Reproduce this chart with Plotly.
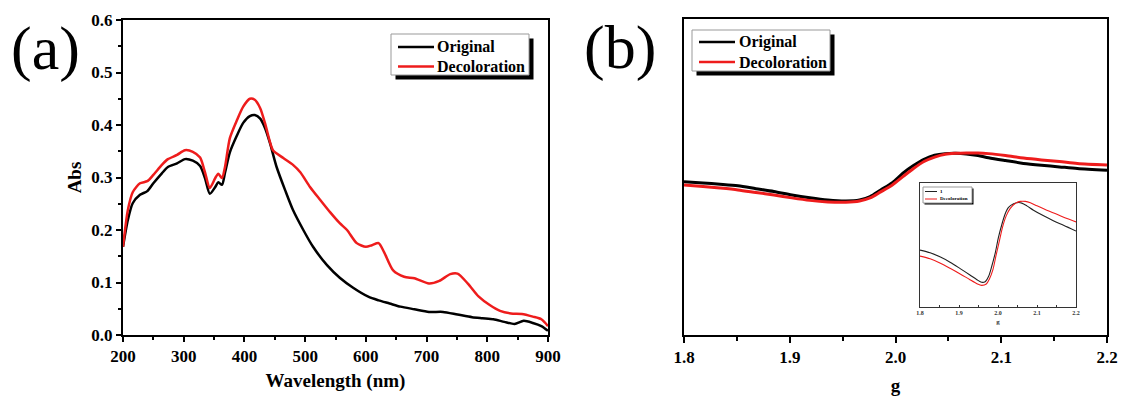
import plotly.graph_objects as go

W, H = 1121, 396
FONT = "Liberation Serif"
RED = "#ee1c1c"

# ---------------- data: panel (a) UV-Vis ----------------
wl_original = [200, 208, 216, 228, 240, 250, 264, 274, 289, 302, 315, 327, 335, 343, 352, 357, 363,
               368, 376, 388, 398, 409, 417, 426, 434, 442, 453, 467, 480, 497, 513, 536, 557, 579,
               604, 621, 639, 657, 680, 704, 727, 751, 775, 792, 810, 828, 845, 860, 875, 889, 900]
abs_original = [0.168, 0.219, 0.251, 0.267, 0.274, 0.289, 0.308, 0.320, 0.327, 0.335, 0.332, 0.322,
                0.299, 0.269, 0.282, 0.291, 0.286, 0.309, 0.348, 0.381, 0.404, 0.417, 0.419, 0.412,
                0.394, 0.366, 0.320, 0.276, 0.238, 0.200, 0.168, 0.133, 0.109, 0.090, 0.073, 0.066,
                0.060, 0.054, 0.049, 0.044, 0.044, 0.039, 0.034, 0.032, 0.030, 0.025, 0.021, 0.027,
                0.023, 0.017, 0.008]
wl_decol = [200, 208, 216, 228, 240, 250, 264, 274, 289, 302, 315, 327, 335, 343, 352, 357, 363,
            368, 376, 388, 398, 409, 417, 426, 434, 442, 447, 464, 480, 492, 508, 525, 541, 557,
            569, 585, 600, 610, 621, 630, 645, 663, 680, 704, 721, 739, 751, 768, 786, 804, 821,
            839, 857, 875, 889, 900]
abs_decol = [0.168, 0.238, 0.272, 0.289, 0.293, 0.305, 0.324, 0.335, 0.343, 0.352, 0.349, 0.338,
             0.310, 0.280, 0.299, 0.307, 0.299, 0.320, 0.375, 0.410, 0.435, 0.450, 0.448, 0.432,
             0.403, 0.368, 0.352, 0.337, 0.324, 0.310, 0.282, 0.257, 0.234, 0.213, 0.200, 0.175,
             0.168, 0.171, 0.175, 0.158, 0.123, 0.111, 0.108, 0.098, 0.103, 0.116, 0.117, 0.098,
             0.073, 0.057, 0.046, 0.041, 0.040, 0.035, 0.030, 0.017]

# ---------------- data: panel (b) EPR (arbitrary units) ----------------
g_original = [1.800, 1.818, 1.834, 1.851, 1.868, 1.885, 1.902, 1.919, 1.936, 1.953, 1.966, 1.976,
              1.986, 1.997, 2.007, 2.017, 2.027, 2.037, 2.047, 2.057, 2.067, 2.078, 2.088, 2.104,
              2.121, 2.138, 2.155, 2.172, 2.200]
epr_original = [0.485, 0.481, 0.477, 0.472, 0.463, 0.454, 0.443, 0.434, 0.427, 0.424, 0.427, 0.438,
                0.459, 0.482, 0.512, 0.536, 0.556, 0.569, 0.574, 0.575, 0.573, 0.568, 0.561, 0.552,
                0.543, 0.537, 0.532, 0.527, 0.521]
g_decol = g_original
epr_decol = [0.475, 0.470, 0.465, 0.459, 0.451, 0.443, 0.434, 0.426, 0.421, 0.420, 0.424, 0.434,
             0.453, 0.475, 0.501, 0.527, 0.549, 0.563, 0.572, 0.575, 0.576, 0.576, 0.574, 0.568,
             0.560, 0.554, 0.549, 0.543, 0.538]

# ---------------- data: inset ----------------
g_inset_original = [1.800, 1.826, 1.851, 1.877, 1.903, 1.928, 1.946, 1.958, 1.967, 1.976, 1.984,
                    1.993, 2.001, 2.010, 2.018, 2.027, 2.040, 2.053, 2.061, 2.074, 2.091, 2.117,
                    2.143, 2.168, 2.200]
inset_original = [0.457, 0.435, 0.402, 0.359, 0.307, 0.255, 0.217, 0.196, 0.201, 0.245, 0.326,
                  0.435, 0.557, 0.666, 0.747, 0.802, 0.832, 0.842, 0.837, 0.815, 0.780, 0.734,
                  0.693, 0.658, 0.611]
g_inset_decol = [1.800, 1.826, 1.851, 1.877, 1.903, 1.928, 1.946, 1.958, 1.970, 1.978, 1.987,
                 1.995, 2.004, 2.012, 2.021, 2.031, 2.044, 2.057, 2.070, 2.083, 2.100, 2.125,
                 2.151, 2.177, 2.200]
inset_decol = [0.408, 0.386, 0.353, 0.310, 0.264, 0.217, 0.185, 0.171, 0.182, 0.223, 0.299,
               0.413, 0.538, 0.647, 0.734, 0.793, 0.834, 0.851, 0.851, 0.840, 0.815, 0.780,
               0.747, 0.712, 0.685]

series_names = ["Original", "Decoloration"]
inset_names = ["1", "Decoloration"]
wl_ticks = [200, 300, 400, 500, 600, 700, 800, 900]
abs_ticks = [0.0, 0.1, 0.2, 0.3, 0.4, 0.5, 0.6]
g_ticks = [1.8, 1.9, 2.0, 2.1, 2.2]


def px(x):
    return x / W


def py(y):
    return 1 - y / H


fig = go.Figure()
line_kw = dict(mode="lines", line_shape="spline", showlegend=False)
fig.add_trace(go.Scatter(x=wl_original, y=abs_original, name=series_names[0], xaxis="x", yaxis="y",
                         line=dict(color="black", width=2.5, smoothing=0.7), **line_kw))
fig.add_trace(go.Scatter(x=wl_decol, y=abs_decol, name=series_names[1], xaxis="x", yaxis="y",
                         line=dict(color=RED, width=2.5, smoothing=0.7), **line_kw))
fig.add_trace(go.Scatter(x=g_original, y=epr_original, name=series_names[0], xaxis="x2", yaxis="y2",
                         line=dict(color="black", width=3, smoothing=0.8), **line_kw))
fig.add_trace(go.Scatter(x=g_decol, y=epr_decol, name=series_names[1], xaxis="x2", yaxis="y2",
                         line=dict(color=RED, width=3, smoothing=0.8), **line_kw))
fig.add_trace(go.Scatter(x=g_inset_original, y=inset_original, name=inset_names[0], xaxis="x3", yaxis="y3",
                         line=dict(color="#222222", width=1.1, smoothing=0.8), **line_kw))
fig.add_trace(go.Scatter(x=g_inset_decol, y=inset_decol, name=inset_names[1], xaxis="x3", yaxis="y3",
                         line=dict(color=RED, width=1.1, smoothing=0.8), **line_kw))

ax_common = dict(showline=True, linecolor="black", mirror=True, showgrid=False, zeroline=False,
                 automargin=False, ticks="outside", tickcolor="black",
                 tickfont=dict(size=17, family=FONT, color="black", weight="bold"))

fig.update_layout(
    width=W, height=H, margin=dict(l=0, r=0, t=0, b=0, pad=0, autoexpand=False),
    paper_bgcolor="white", plot_bgcolor="white", showlegend=False,
    font=dict(family=FONT, color="black", weight="bold"),
    xaxis=dict(domain=[px(123), px(548)], range=[200, 900], anchor="y", tickvals=wl_ticks,
               ticklen=5, tickwidth=2, linewidth=2,
               minor=dict(dtick=50, tick0=200, ticklen=3, tickwidth=1.5, ticks="outside", tickcolor="black"),
               title=dict(text="Wavelength (nm)", font=dict(size=19, family=FONT, weight="bold"), standoff=8),
               **ax_common),
    yaxis=dict(domain=[py(335), py(20)], range=[0, 0.6], anchor="x", tickvals=abs_ticks, tickformat=".1f",
               ticklen=5, tickwidth=2, linewidth=2,
               minor=dict(dtick=0.05, tick0=0, ticklen=3, tickwidth=1.5, ticks="outside", tickcolor="black"),
               title=dict(text="Abs", font=dict(size=19, family=FONT, weight="bold"), standoff=5),
               **ax_common),
    xaxis2=dict(domain=[px(684), px(1107)], range=[1.8, 2.2], anchor="y2", tickvals=g_ticks, tickformat=".1f",
                ticklen=6, tickwidth=2, linewidth=2,
                minor=dict(dtick=0.05, tick0=1.8, ticklen=4, tickwidth=1.5, ticks="outside", tickcolor="black"),
                title=dict(text="g", font=dict(size=19, family=FONT, weight="bold"), standoff=18),
                **ax_common),
    yaxis2=dict(domain=[py(335), py(19)], range=[0, 1], anchor="x2", showticklabels=False,
                showline=True, linecolor="black", linewidth=2, mirror=True, showgrid=False,
                zeroline=False, ticks="", automargin=False),
    xaxis3=dict(domain=[px(920), px(1076)], range=[1.8, 2.2], anchor="y3", tickvals=g_ticks, tickformat=".1f",
                showline=True, linecolor="#333", linewidth=1, mirror=True, showgrid=False, zeroline=False,
                automargin=False, ticks="inside", ticklen=2, tickwidth=0.8, tickcolor="#333",
                minor=dict(dtick=0.05, tick0=1.8, ticklen=2, tickwidth=0.8, ticks="inside", tickcolor="#333"),
                tickfont=dict(size=6, family=FONT, color="#333", weight="bold"),
                title=dict(text="g", font=dict(size=7, family=FONT, color="#333", weight="bold"), standoff=4)),
    yaxis3=dict(domain=[py(306.5), py(183)], range=[0, 1], anchor="x3", showticklabels=False,
                showline=True, linecolor="#333", linewidth=1, mirror=True, showgrid=False,
                zeroline=False, ticks="", automargin=False),
)

shapes = []
annotations = []


def add_legend(box, shadow_off, line_x, rows, text_x, size, lw, names, colors):
    x0, y0, x1, y1 = box
    shapes.append(dict(type="rect", xref="paper", yref="paper",
                       x0=px(x0 + shadow_off), x1=px(x1 + shadow_off),
                       y0=py(y1 + shadow_off), y1=py(y0 + shadow_off),
                       fillcolor="black", line=dict(width=0), layer="above"))
    shapes.append(dict(type="rect", xref="paper", yref="paper", x0=px(x0), x1=px(x1), y0=py(y1), y1=py(y0),
                       fillcolor="white", line=dict(width=1, color="#999"), layer="above"))
    for name, color, ry in zip(names, colors, rows):
        shapes.append(dict(type="line", xref="paper", yref="paper", x0=px(line_x[0]), x1=px(line_x[1]),
                           y0=py(ry), y1=py(ry), line=dict(width=lw, color=color), layer="above"))
        annotations.append(dict(text=name, x=px(text_x), y=py(ry), xref="paper", yref="paper",
                                showarrow=False, xanchor="left", yanchor="middle",
                                font=dict(size=size, family=FONT, color="black", weight="bold")))


add_legend((391, 34, 529, 75), 4.5, (398, 434), (47, 66.5), 435, 16, 2.5, series_names, ["black", RED])
add_legend((692, 30, 830, 71), 4.5, (699, 735), (42, 62), 737, 16, 2.5, series_names, ["black", RED])
add_legend((923, 187, 972, 203), 1.5, (925, 937), (191.5, 199), 938, 5, 1, inset_names, ["#222", RED])

annotations += [
    dict(text="(a)", x=px(45), y=py(49), xref="paper", yref="paper", showarrow=False,
         xanchor="center", yanchor="middle", font=dict(size=62, family=FONT, color="black", weight="normal")),
    dict(text="(b)", x=px(620), y=py(47), xref="paper", yref="paper", showarrow=False,
         xanchor="center", yanchor="middle", font=dict(size=62, family=FONT, color="black", weight="normal")),
]
fig.update_layout(shapes=shapes, annotations=annotations)

fig.write_html("out.html")
